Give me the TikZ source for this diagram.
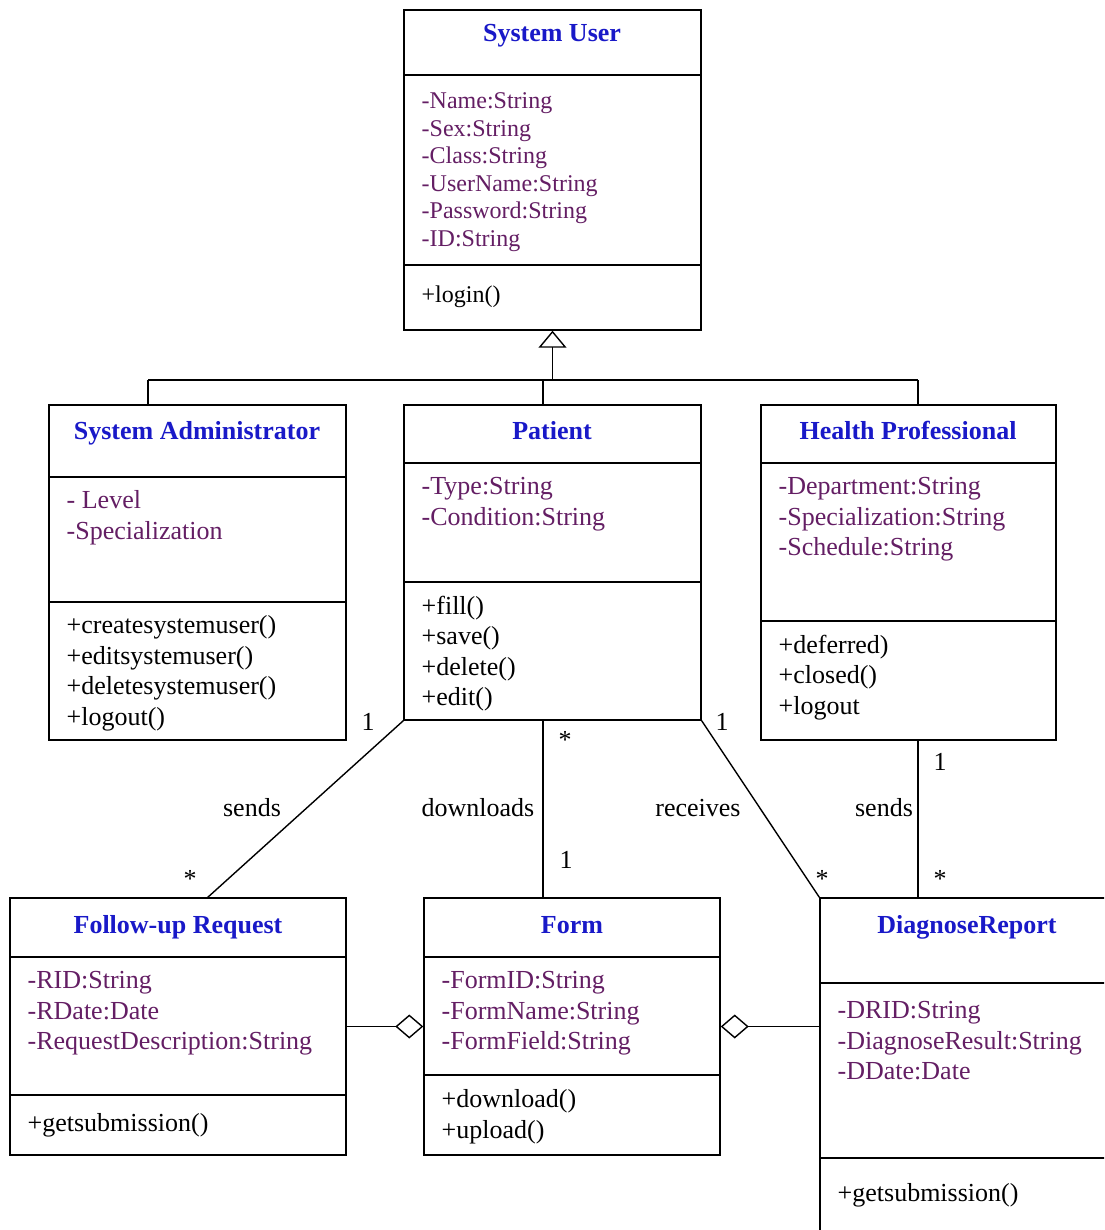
\documentclass[tikz,border=0pt]{standalone}
\usepackage{fontspec}
\setmainfont{Liberation Serif}
\usetikzlibrary{arrows.meta,positioning,fit}
\definecolor{titleblue}{RGB}{25,25,200}
\definecolor{attrpurple}{RGB}{100,30,100}

\begin{document}
\begin{tikzpicture}[x=0.5pt,y=-0.5pt,line width=0.7pt,
  cls/.style={draw,inner sep=0pt},
  title/.style={anchor=base,inner sep=0pt,font=\fontsize{13}{15.25}\selectfont\bfseries,text=titleblue},
  attr/.style={anchor=north west,inner sep=0pt,align=left,font=\fontsize{13}{15.25}\selectfont,text=attrpurple,execute at begin node=\strut},
  meth/.style={attr,text=black},
  small/.style={font=\fontsize{12}{13.8}\selectfont},
  lbl/.style={inner sep=0pt,font=\fontsize{13}{15.25}\selectfont},
  gen/.style={-{Triangle[open,length=8.5pt,width=14pt]}},
  agg/.style={-{Diamond[open,length=14pt,width=12pt]}}]
\useasboundingbox (0,0) rectangle (1104,1230);
\fill[white] (0,0) rectangle (1104,1230);
\clip (0,0) rectangle (1104,1230);

% classes
\node[cls,fit={(404,10) (701,330)}] (su) {};
\draw (404,75) -- (701,75);
\draw (404,265) -- (701,265);
\node[title] (su-title) at (552,42) {System User};
\node[attr,small] (su-attr) at (421,92) {-Name:String\\-Sex:String\\-Class:String\\-UserName:String\\-Password:String\\-ID:String};
\node[meth,small] (su-meth) at (421,282) {+login()};

\node[cls,fit={(49,405) (346,740)}] (sa) {};
\draw (49,477) -- (346,477);
\draw (49,602) -- (346,602);
\node[title] (sa-title) at (197,439) {System Administrator};
\node[attr] (sa-attr) at (66,490) {- Level\\-Specialization};
\node[meth] (sa-meth) at (66,615) {+createsystemuser()\\+editsystemuser()\\+deletesystemuser()\\+logout()};

\node[cls,fit={(404,405) (701,720)}] (pat) {};
\draw (404,463) -- (701,463);
\draw (404,582) -- (701,582);
\node[title] (pat-title) at (552,439) {Patient};
\node[attr] (pat-attr) at (421,477) {-Type:String\\-Condition:String};
\node[meth] (pat-meth) at (421,595) {+fill()\\+save()\\+delete()\\+edit()};

\node[cls,fit={(761,405) (1056,740)}] (hp) {};
\draw (761,463) -- (1056,463);
\draw (761,621) -- (1056,621);
\node[title] (hp-title) at (908,439) {Health Professional};
\node[attr] (hp-attr) at (778,477) {-Department:String\\-Specialization:String\\-Schedule:String};
\node[meth] (hp-meth) at (778,634) {+deferred)\\+closed()\\+logout};

\node[cls,fit={(10,898) (346,1155)}] (fu) {};
\draw (10,957) -- (346,957);
\draw (10,1095) -- (346,1095);
\node[title] (fu-title) at (178,933) {Follow-up Request};
\node[attr] (fu-attr) at (27,971) {-RID:String\\-RDate:Date\\-RequestDescription:String};
\node[meth] (fu-meth) at (27,1109) {+getsubmission()};

\node[cls,fit={(424,898) (720,1155)}] (form) {};
\draw (424,957) -- (720,957);
\draw (424,1075) -- (720,1075);
\node[title] (form-title) at (572,933) {Form};
\node[attr] (form-attr) at (441,971) {-FormID:String\\-FormName:String\\-FormField:String};
\node[meth] (form-meth) at (441,1089) {+download()\\+upload()};

\node[cls,fit={(820,898) (1114,1240)}] (dr) {};
\draw (820,983) -- (1114,983);
\draw (820,1158) -- (1114,1158);
\node[title] (dr-title) at (967,933) {DiagnoseReport};
\node[attr] (dr-attr) at (837,1001) {-DRID:String\\-DiagnoseResult:String\\-DDate:Date};
\node[meth] (dr-meth) at (837,1179) {+getsubmission()};

% generalization
\coordinate (bus l) at (148,380);
\coordinate (bus m) at (543,380);
\coordinate (bus r) at (918,380);
\draw (bus l) -- (bus r);
\draw (bus l) -- (bus l |- sa.north);
\draw (bus m) -- (bus m |- pat.north);
\draw (bus r) -- (bus r |- hp.north);
\draw[gen] (su.south |- bus l) -- (su.south);

% associations
\coordinate (fu a) at (207,898);
\draw (pat.south west) -- (fu a);
\draw (bus m |- pat.south) -- (bus m |- form.north);
\draw (pat.south east) -- (dr.north west);
\draw (bus r |- hp.south) -- (bus r |- dr.north);
\node[lbl] (m1) at (368,722) {1};
\node[lbl] (a1) at (252,808) {sends};
\node[lbl] (m2) at (190,879) {*};
\node[lbl] (m3) at (565,740) {*};
\node[lbl] (a2) at (478,808) {downloads};
\node[lbl] (m4) at (566,860) {1};
\node[lbl] (m5) at (722,722) {1};
\node[lbl] (a3) at (698,808) {receives};
\node[lbl] (m6) at (822,879) {*};
\node[lbl] (m7) at (940,762) {1};
\node[lbl] (a4) at (884,808) {sends};
\node[lbl] (m8) at (940,879) {*};

% aggregations
\draw[agg] (fu.east) -- (form.west);
\draw[agg] (form.east -| dr.west) -- (form.east);
\end{tikzpicture}
\end{document}
